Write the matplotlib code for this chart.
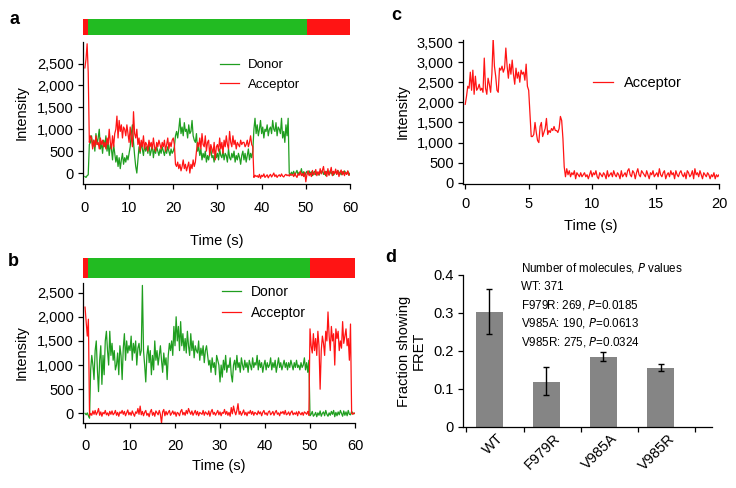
import numpy as np
import matplotlib
matplotlib.use('Agg')
import matplotlib.pyplot as plt
from matplotlib.ticker import FuncFormatter
import matplotlib.transforms as mtransforms

plt.rcParams['font.family'] = ['Liberation Sans', 'DejaVu Sans']
plt.rcParams['font.size'] = 10.5

# --- data ---
# panel a, 0.25 s frames, 0-60 s
donor_a = [
    -80, -100, -60, -40,  650, 700, 850, 600,  750, 500, 900, 650,  800, 1000, 550, 700,
    450, 750, 600, 850,  500, 700, 400, 650,  550, 300, 650, 450,  250, 400, 150, 350,
    100, 300, 450, 200,  350, 250, 400, 300,  450, 600, 900, 1100,  700, 400, 150, 0,
    300, 600, 450, 700,  550, 400, 650, 500,  600, 450, 700, 400,  500, 650, 350, 550,
    450, 600, 500, 400,  550, 450, 600, 500,  400, 550, 450, 600,  500, 400, 550, 450,
    500, 600, 850, 950,  800, 1000, 1250, 900,  1050, 850, 1150, 950,  1000, 800, 1100, 900,
    950, 1200, 850, 750,  700, 900, 500, 600,  400, 550, 300, 450,  350, 500, 250, 400,
    300, 450, 550, 350,  400, 250, 500, 350,  450, 300, 550, 400,  350, 500, 300, 450,
    400, 250, 550, 350,  300, 450, 350, 500,  250, 400, 300, 450,  350, 200, 400, 500,
    300, 450, 250, 400,  550, 300, 450, 350,  500, 1000, 1250, 900,  1100, 850, 1000, 1200,
    900, 1050, 800, 1000,  950, 1100, 850, 1000,  1050, 900, 1200, 1000,  950, 1150, 850, 1050,
    1000, 900, 1250, 800,  950, 700, 1100, 850,  1250, 0, -50, 20,  -30, 40, -60, 10,
    60, -40, 20, -20,  100, -50, 30, -70,  0, 40, -30, 50,  -20, 30, -60, 10,
    40, -40, 20, -10,  -50, 30, 0, 60,  -30, 20, -60, 40,  10, -40, 50, -20,
    30, -50, 0, 40,  -30, 60, -10, 20,  -40, 30, -20, 50,  0, -30, 40, -50,  0]
acceptor_a = [
    2400, 2600, 2950, 2300,  700, 850, 800, 550,  750, 600, 850, 650,  700, 550, 800, 650,
    750, 600, 700, 550,  800, 650, 1000, 700,  550, 850, 600, 900,  1000, 1300, 800, 1200,
    950, 1100, 800, 1050,  1000, 850, 1100, 900,  700, 1050, 800, 600,  1400, 900, 800, 1000,
    650, 800, 500, 750,  600, 850, 550, 700,  650, 500, 750, 600,  700, 550, 800, 600,
    500, 700, 600, 750,  650, 550, 700, 600,  750, 500, 650, 800,  550, 700, 600, 750,
    800, 650, 200, 150,  250, 100, 200, 50,  150, 300, 100, 200,  50, 150, 250, 0,
    200, 100, 300, 150,  250, 500, 700, 600,  800, 550, 900, 650,  600, 850, 500, 700,
    750, 400, 650, 550,  450, 700, 300, 600,  650, 500, 800, 550,  700, 450, 750, 600,
    850, 650, 550, 950,  700, 600, 850, 650,  750, 550, 700, 650,  600, 750, 650, 700,
    700, 600, 650, 750,  600, 700, 850, 650,  600, -100, -50, -80,  -60, -100, -30, -120,
    -50, -80, -20, -100,  -70, -40, -110, -60,  -30, -90, -50, 0,  -80, -40, -100, -60,
    -40, -80, -20, -70,  -90, -50, -30, -60,  -40, -70, -20, -50,  -30, -80, 0, -60,
    -100, -20, -50, 40,  -60, -10, -80, 20,  -200, -30, 50, -60,  0, -80, 60, -40,
    -20, 80, -60, 30,  -40, 100, -20, 60,  150, -30, 40, -80,  100, -50, 20, 130,
    -60, 40, -20, 90,  -30, 60, -80, 20,  70, -40, 40, -60,  20, -30, 50, -50,  -30]

# panel b, 0.25 s frames, 0-60 s
donor_b = [
    0, -30, 10, -50,  -100, 900, 1200, 1000,  700, 1300, 1500, 900,  450, 1100, 1400, 600,
    1200, 800, 1500, 1700,  1300, 1000, 1700, 1200,  1450, 1100, 1300, 900,  1000, 1250, 800, 1400,
    1200, 700, 1350, 1650,  1100, 1500, 1250, 1400,  1300, 1600, 1100, 1450,  1250, 1500, 1000, 1350,
    1450, 1200, 1300, 2650,  1300, 1000, 650, 1200,  1400, 1050, 1300, 800,  1200, 900, 1500, 1100,
    1300, 1000, 1200, 1400,  1100, 850, 1250, 1000,  1150, 700, 1200, 1450,  1300, 1500, 1200, 1800,
    1400, 2000, 1500, 1800,  1300, 1900, 1400, 1650,  1300, 1550, 1250, 1700,  1400, 1200, 1650, 1300,
    1500, 1150, 1400, 1300,  1250, 1500, 1100, 1350,  1200, 1400, 1050, 1300,  1400, 1200, 1000, 1100,
    850, 1150, 950, 1050,  800, 1200, 1100, 1000,  650, 1000, 750, 1100,  900, 1200, 850, 1000,
    950, 1150, 800, 650,  1000, 1100, 900, 1200,  950, 1050, 850, 1150,  1000, 900, 1100, 950,
    1050, 850, 1100, 1000,  900, 1150, 950, 1050,  1000, 1200, 900, 1100,  950, 1050, 850, 1000,
    1100, 900, 1050, 950,  1000, 1150, 900, 1050,  950, 1100, 850, 1000,  1150, 950, 1050, 900,
    1000, 1100, 950, 1050,  900, 1050, 950, 1100,  1000, 900, 1050, 950,  1100, 950, 1000, 900,
    1050, 950, 1000, 1150,  900, 1050, 850, 1100,  -50, -20, 40, -60,  -30, 20, -70, 10,
    -40, 50, -60, 0,  30, -50, 60, -20,  -60, 10, -40, 40,  -20, 60, -70, 20,
    -50, 30, -30, 60,  0, -60, 50, -40,  30, -50, 60, -20,  -30, 40, 0, -10,  0]
acceptor_b = [
    2200, 1900, 1600, 1950,  -50, 0, -40, 50,  -20, 60, -30, 20,  100, -40, 30, -60,
    20, -10, 60, -30,  10, -50, 40, -20,  50, -30, 0, 60,  -40, 20, -60, 30,
    0, 60, -20, 40,  -50, 10, 70, -30,  20, -40, 50, -10,  -60, 30, 0, 100,
    -20, 150, -30, 40,  -50, 20, 60, -40,  0, -70, 30, 80,  -40, 20, -60, 50,
    10, -30, 60, -20,  -200, 30, 80, -50,  40, -30, 20, 60,  -40, 0, 50, -20,
    30, -60, 20, 0,  -50, 40, 80, -30,  20, -40, 60, -10,  100, 30, -20, 50,
    -40, 10, 60, -30,  40, -50, 20, 0,  -20, 60, -40, 30,  0, -30, 50, -60,
    30, 80, -20, 20,  -40, 10, 60, -30,  30, -50, 20, 0,  80, -20, 40, -40,
    20, -60, 120, -10,  150, 40, -30, 60,  200, -20, 40, -40,  10, 70, -30, 20,
    -50, 30, 0, 60,  -20, 40, -40, 20,  0, -30, 50, -10,  30, -50, 20, 60,
    -20, 10, -40, 30,  50, -30, 0, 40,  -40, 20, 60, -20,  10, -50, 30, 0,
    40, -20, 60, -30,  -10, 30, -40, 20,  50, -30, 10, -20,  30, -50, 40, 0,
    -30, 20, -40, 30,  10, -20, 40, -40,  1750, 1400, 1250, 1650,  1300, 1550, 1200, 1700,
    1400, 500, 1300, 1600,  1450, 1200, 1700, 1500,  2100, 1600, 1300, 1800,  1500, 1650, 1000, 1750,
    1550, 1700, 1300, 1500,  1350, 1900, 1450, 1600,  1750, 1400, 1550, 1100,  1850, 0, -20, 10,  0]

# panel c, 0.1 s frames, 0-20 s
acceptor_c = [
    1950, 2150, 2400, 2350, 2750, 2300, 2800, 2200, 2650, 2300,
    2350, 2450, 2300, 2350, 2250, 3100, 2350, 2200, 2600, 2450,
    2250, 2700, 3600, 2900, 2650, 2300, 2250, 2850, 2800, 2900,
    2750, 2850, 3350, 2900, 2600, 2950, 2700, 3050, 2700, 2450,
    2850, 2600, 2750, 2500, 2800, 2700, 2750, 2550, 2950, 2400,
    2300, 1700, 1150, 1150, 1200, 1500, 1250, 1050, 1000, 1400,
    1500, 1150, 1250, 1350, 1600, 1200, 1300, 1250, 1350, 1300,
    1400, 1300, 1300, 1250, 1350, 1650, 1550, 1100, 400, 150,
    350, 200, 300, 150, 250, 200, 300, 100, 250, 200,
    150, 250, 150, 200, 250, 150, 200, 100, 200, 300,
    150, 250, 200, 300, 150, 100, 250, 200, 150, 250,
    200, 100, 300, 150, 200, 250, 150, 300, 200, 150,
    250, 200, 100, 300, 150, 200, 250, 150, 300, 350,
    200, 150, 300, 250, 100, 250, 350, 200, 150, 300,
    250, 200, 150, 300, 200, 100, 250, 200, 300, 150,
    200, 250, 150, 350, 200, 150, 250, 300, 100, 200,
    250, 150, 300, 200, 250, 100, 300, 200, 150, 250,
    300, 200, 150, 250, 100, 300, 250, 150, 200, 300,
    100, 350, 200, 250, 150, 300, 200, 100, 250, 200,
    150, 250, 200, 100, 200, 150, 250, 100, 200, 150,
    200]

# state bars above a and b: (start, end, state)
bar_a = [(-0.5, 0.6, 'A'), (0.6, 50.3, 'D'), (50.3, 60.0, 'A')]
bar_b = [(-0.45, 0.7, 'A'), (0.7, 50.0, 'D'), (50.0, 60.0, 'A')]

# panel d
mutants = ['WT', 'F979R', 'V985A', 'V985R']
fret_frac = [0.302, 0.118, 0.185, 0.155]
err_lo = [0.245, 0.083, 0.174, 0.148]
err_hi = [0.363, 0.157, 0.198, 0.165]
notes = ['Number of molecules, $\\it{P}$ values', 'WT: 371',
         'F979R: 269, $\\it{P}$=0.0185', 'V985A: 190, $\\it{P}$=0.0613',
         'V985R: 275, $\\it{P}$=0.0324']

GREEN = '#1f9e1f'
BAR_GREEN = '#22bb22'
RED = '#ff1414'
state_col = {'A': RED, 'D': BAR_GREEN}

W, H = 736, 488
fig = plt.figure(figsize=(W / 100, H / 100), dpi=100)


def px_axes(left, top, right, bottom):
    return fig.add_axes([left / W, 1 - bottom / H, (right - left) / W, (bottom - top) / H])


def style(ax, xpad=3):
    for s in ['top', 'right']:
        ax.spines[s].set_visible(False)
    for s in ['left', 'bottom']:
        ax.spines[s].set_linewidth(0.9)
    ax.tick_params(direction='out', length=3.5, width=0.9, pad=3, labelsize=10.5)
    ax.tick_params(axis='x', pad=xpad)


comma = FuncFormatter(lambda v, p: f"{v:,.0f}")

# ---- a ----
t_ab = np.arange(len(donor_a)) * 0.25
ax_a = px_axes(82.7, 41.6, 350, 184)
ax_a.plot(t_ab, donor_a, color=GREEN, lw=0.9, label='Donor')
ax_a.plot(t_ab, acceptor_a, color=RED, lw=0.9, label='Acceptor')
ax_a.set_xlim(-0.5, 60)
ax_a.set_ylim(-250, 3000)
ax_a.set_xticks([0, 10, 20, 30, 40, 50, 60])
ax_a.set_yticks([0, 500, 1000, 1500, 2000, 2500])
ax_a.yaxis.set_major_formatter(comma)
ax_a.set_xlabel('Time (s)', labelpad=14)
ax_a.set_ylabel('Intensity', labelpad=6)
style(ax_a, xpad=8.5)
ax_a.legend(loc='upper left', bbox_to_anchor=(0.47, 0.96), frameon=False, fontsize=9.5,
            handlelength=1.4, handletextpad=0.7, labelspacing=0.55)

bar_ax_a = px_axes(82.7, 19, 350, 35)
for s0, s1, st in bar_a:
    bar_ax_a.axvspan(s0, s1, color=state_col[st], lw=0)
bar_ax_a.set_xlim(-0.5, 60)
bar_ax_a.axis('off')

# ---- b ----
ax_b = px_axes(83, 283, 355, 423)
ax_b.plot(t_ab, donor_b, color=GREEN, lw=0.9, label='Donor')
ax_b.plot(t_ab, acceptor_b, color=RED, lw=0.9, label='Acceptor')
ax_b.set_xlim(-0.45, 60)
ax_b.set_ylim(-200, 2700)
ax_b.set_xticks([0, 10, 20, 30, 40, 50, 60])
ax_b.set_yticks([0, 500, 1000, 1500, 2000, 2500])
ax_b.yaxis.set_major_formatter(comma)
ax_b.set_xlabel('Time (s)', labelpad=4)
ax_b.set_ylabel('Intensity', labelpad=6)
style(ax_b, xpad=8)
ax_b.legend(loc='upper left', bbox_to_anchor=(0.465, 1.075), frameon=False, fontsize=10,
            handlelength=1.4, handletextpad=0.7, labelspacing=0.5)

bar_ax_b = px_axes(83, 258, 355, 278)
for s0, s1, st in bar_b:
    bar_ax_b.axvspan(s0, s1, color=state_col[st], lw=0)
bar_ax_b.set_xlim(-0.45, 60)
bar_ax_b.axis('off')

# ---- c ----
t_c = np.arange(len(acceptor_c)) * 0.1
ax_c = px_axes(462.7, 40, 719, 184)
ax_c.plot(t_c, acceptor_c, color=RED, lw=0.9, label='Acceptor')
ax_c.set_xlim(-0.2, 20)
ax_c.set_ylim(-30, 3550)
ax_c.set_xticks([0, 5, 10, 15, 20])
ax_c.set_yticks(np.arange(0, 3501, 500))
ax_c.yaxis.set_major_formatter(comma)
ax_c.set_xlabel('Time (s)', labelpad=6)
ax_c.set_ylabel('Intensity', labelpad=5)
style(ax_c, xpad=5.5)
ax_c.legend(loc='center left', bbox_to_anchor=(0.457, 0.70), frameon=False, fontsize=10.5,
            handlelength=1.4, handletextpad=0.7)

# ---- d ----
xpos = np.arange(len(mutants))
ax_d = px_axes(463, 275, 712, 427)
ax_d.bar(xpos, fret_frac, width=0.48, color='#858585')
yerr = [np.array(fret_frac) - np.array(err_lo), np.array(err_hi) - np.array(fret_frac)]
ax_d.errorbar(xpos, fret_frac, yerr=yerr, fmt='none', ecolor='black', elinewidth=1,
              capsize=2.5, capthick=1)
ax_d.set_xlim(-0.46, 3.9)
ax_d.set_ylim(0, 0.4)
ax_d.set_yticks([0, 0.1, 0.2, 0.3, 0.4])
ax_d.set_yticklabels(['0', '0.1', '0.2', '0.3', '0.4'])
style(ax_d)
ax_d.set_xticks(xpos)
ax_d.set_xticklabels(mutants, rotation=45, ha='right', va='top', rotation_mode='anchor')
ax_d.tick_params(axis='x', length=0, pad=3)
shift = mtransforms.ScaledTranslation(7 / 100, 0, fig.dpi_scale_trans)
for lbl in ax_d.get_xticklabels():
    lbl.set_transform(lbl.get_transform() + shift)
ax_d.set_xticks(list(xpos - 0.4) + [3.6], minor=True)
ax_d.tick_params(axis='x', which='minor', length=3.5, width=0.9, direction='out')
ax_d.set_ylabel('Fraction showing\nFRET', labelpad=6, linespacing=1.0)
for i, s in enumerate(notes):
    fig.text(521 / W, 1 - (268 + i * 18.5) / H, s, fontsize=8.4, va='center', ha='left')

# panel letters
for lab, x, y in [('a', 15, 19), ('b', 13, 262), ('c', 396, 16), ('d', 391, 258)]:
    fig.text(x / W, 1 - y / H, lab, fontsize=13, fontweight='bold', ha='center', va='center')

fig.savefig('out.png', dpi=100)
